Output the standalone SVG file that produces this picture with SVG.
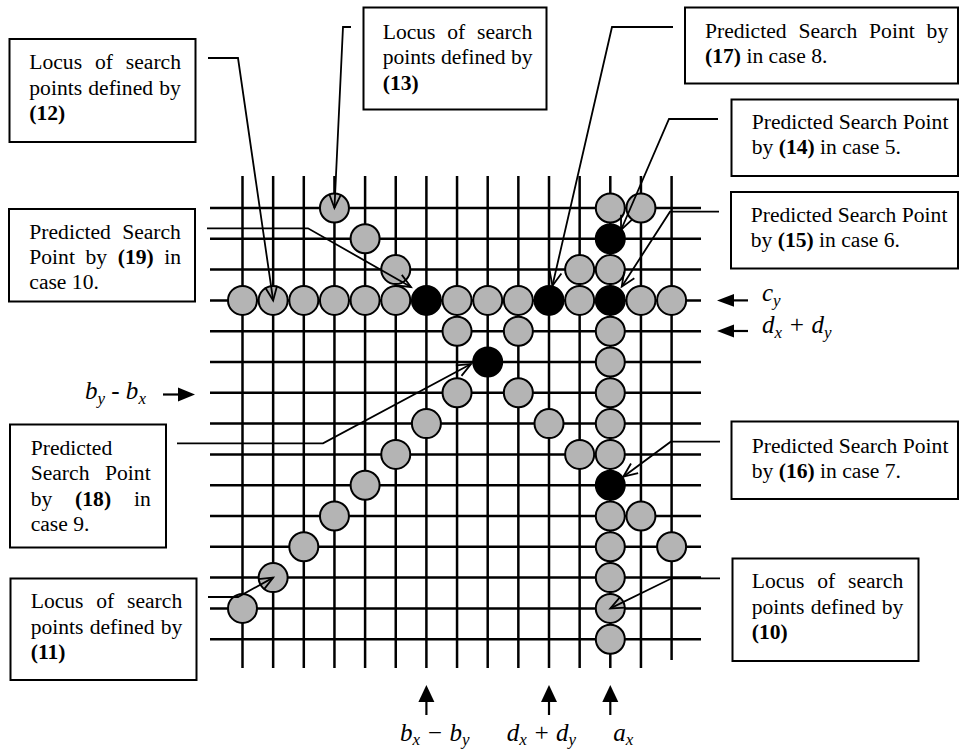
<svg xmlns="http://www.w3.org/2000/svg" width="960" height="753" viewBox="0 0 960 753">
<style>
  .grid line { stroke: #000; stroke-width: 2.5; }
  .g { fill: #b4b4b4; stroke: #000; stroke-width: 2; }
  .b { fill: #000; stroke: #000; stroke-width: 2; }
  .box { fill: #fff; stroke: #000; stroke-width: 2; }
  .t { font-family: "Liberation Serif", "Times New Roman", serif; font-size: 21.6px; fill: #000; }
  .bd { font-weight: bold; }
  .con { fill: none; stroke: #000; stroke-width: 1.8; marker-end: url(#open); }
  .m { font-family: "Liberation Serif", "Times New Roman", serif; font-style: italic; font-size: 25px; fill: #000; }
  .sub { font-size: 17px; }
  .ax line { stroke: #000; stroke-width: 2.2; }
  .ax polygon { fill: #000; }
</style>
<defs>
  <marker id="open" markerUnits="userSpaceOnUse" markerWidth="18" markerHeight="16" viewBox="-16 -8 18 16" refX="0" refY="0" orient="auto" overflow="visible">
    <path d="M-14,-6 L0,0 L-14,6" fill="none" stroke="#000" stroke-width="1.8"/>
  </marker>
</defs>
<rect width="960" height="753" fill="#fff"/>

<g id="grid" class="grid">
  <line x1="242.5" y1="176" x2="242.5" y2="668"/>
  <line x1="273.15" y1="176" x2="273.15" y2="668"/>
  <line x1="303.8" y1="176" x2="303.8" y2="668"/>
  <line x1="334.45" y1="176" x2="334.45" y2="668"/>
  <line x1="365.1" y1="176" x2="365.1" y2="668"/>
  <line x1="395.75" y1="176" x2="395.75" y2="668"/>
  <line x1="426.4" y1="176" x2="426.4" y2="668"/>
  <line x1="457.05" y1="176" x2="457.05" y2="668"/>
  <line x1="487.7" y1="176" x2="487.7" y2="668"/>
  <line x1="518.35" y1="176" x2="518.35" y2="668"/>
  <line x1="549" y1="176" x2="549" y2="668"/>
  <line x1="579.65" y1="176" x2="579.65" y2="668"/>
  <line x1="610.3" y1="176" x2="610.3" y2="668"/>
  <line x1="640.95" y1="176" x2="640.95" y2="668"/>
  <line x1="671.6" y1="176" x2="671.6" y2="660"/>
  <line x1="210" y1="208" x2="701" y2="208"/>
  <line x1="210" y1="238.8" x2="701" y2="238.8"/>
  <line x1="210" y1="269.6" x2="701" y2="269.6"/>
  <line x1="210" y1="300.4" x2="701" y2="300.4"/>
  <line x1="210" y1="331.2" x2="701" y2="331.2"/>
  <line x1="210" y1="362" x2="701" y2="362"/>
  <line x1="210" y1="392.8" x2="701" y2="392.8"/>
  <line x1="210" y1="423.6" x2="701" y2="423.6"/>
  <line x1="210" y1="454.4" x2="701" y2="454.4"/>
  <line x1="210" y1="485.2" x2="701" y2="485.2"/>
  <line x1="210" y1="516" x2="701" y2="516"/>
  <line x1="210" y1="546.8" x2="701" y2="546.8"/>
  <line x1="210" y1="577.6" x2="701" y2="577.6"/>
  <line x1="210" y1="608.4" x2="701" y2="608.4"/>
  <line x1="210" y1="639.2" x2="701" y2="639.2"/>
</g>

<g id="points">
  <circle class="g" cx="334.45" cy="208" r="14.5"/>
  <circle class="g" cx="610.3" cy="208" r="14.5"/>
  <circle class="g" cx="640.95" cy="208" r="14.5"/>
  <circle class="g" cx="365.1" cy="238.8" r="14.5"/>
  <circle class="b" cx="610.3" cy="238.8" r="14.5"/>
  <circle class="g" cx="395.75" cy="269.6" r="14.5"/>
  <circle class="g" cx="579.65" cy="269.6" r="14.5"/>
  <circle class="g" cx="610.3" cy="269.6" r="14.5"/>
  <circle class="g" cx="242.5" cy="300.4" r="14.5"/>
  <circle class="g" cx="273.15" cy="300.4" r="14.5"/>
  <circle class="g" cx="303.8" cy="300.4" r="14.5"/>
  <circle class="g" cx="334.45" cy="300.4" r="14.5"/>
  <circle class="g" cx="365.1" cy="300.4" r="14.5"/>
  <circle class="g" cx="395.75" cy="300.4" r="14.5"/>
  <circle class="b" cx="426.4" cy="300.4" r="14.5"/>
  <circle class="g" cx="457.05" cy="300.4" r="14.5"/>
  <circle class="g" cx="487.7" cy="300.4" r="14.5"/>
  <circle class="g" cx="518.35" cy="300.4" r="14.5"/>
  <circle class="b" cx="549" cy="300.4" r="14.5"/>
  <circle class="g" cx="579.65" cy="300.4" r="14.5"/>
  <circle class="b" cx="610.3" cy="300.4" r="14.5"/>
  <circle class="g" cx="640.95" cy="300.4" r="14.5"/>
  <circle class="g" cx="671.6" cy="300.4" r="14.5"/>
  <circle class="g" cx="457.05" cy="331.2" r="14.5"/>
  <circle class="g" cx="518.35" cy="331.2" r="14.5"/>
  <circle class="g" cx="610.3" cy="331.2" r="14.5"/>
  <circle class="b" cx="487.7" cy="362" r="14.5"/>
  <circle class="g" cx="610.3" cy="362" r="14.5"/>
  <circle class="g" cx="457.05" cy="392.8" r="14.5"/>
  <circle class="g" cx="518.35" cy="392.8" r="14.5"/>
  <circle class="g" cx="610.3" cy="392.8" r="14.5"/>
  <circle class="g" cx="426.4" cy="423.6" r="14.5"/>
  <circle class="g" cx="549" cy="423.6" r="14.5"/>
  <circle class="g" cx="610.3" cy="423.6" r="14.5"/>
  <circle class="g" cx="395.75" cy="454.4" r="14.5"/>
  <circle class="g" cx="579.65" cy="454.4" r="14.5"/>
  <circle class="g" cx="610.3" cy="454.4" r="14.5"/>
  <circle class="g" cx="365.1" cy="485.2" r="14.5"/>
  <circle class="b" cx="610.3" cy="485.2" r="14.5"/>
  <circle class="g" cx="334.45" cy="516" r="14.5"/>
  <circle class="g" cx="610.3" cy="516" r="14.5"/>
  <circle class="g" cx="640.95" cy="516" r="14.5"/>
  <circle class="g" cx="303.8" cy="546.8" r="14.5"/>
  <circle class="g" cx="610.3" cy="546.8" r="14.5"/>
  <circle class="g" cx="671.6" cy="546.8" r="14.5"/>
  <circle class="g" cx="273.15" cy="577.6" r="14.5"/>
  <circle class="g" cx="610.3" cy="577.6" r="14.5"/>
  <circle class="g" cx="242.5" cy="608.4" r="14.5"/>
  <circle class="g" cx="610.3" cy="608.4" r="14.5"/>
  <circle class="g" cx="610.3" cy="639.2" r="14.5"/>
</g>

<g id="node-12">
  <rect class="box" x="9.5" y="39" width="186" height="103"/>
  <text class="t" x="29.3" y="69" style="word-spacing:7.5px">Locus of search</text>
  <text class="t" x="29.3" y="94.5" style="word-spacing:0.8px">points defined by</text>
  <text class="t bd" x="29.3" y="120">(12)</text>
</g>
<g id="node-13">
  <rect class="box" x="363.5" y="7.5" width="183" height="102"/>
  <text class="t" x="382.7" y="38.5" style="word-spacing:6.4px">Locus of search</text>
  <text class="t" x="382.7" y="64">points defined by</text>
  <text class="t bd" x="382.7" y="89.5">(13)</text>
</g>
<g id="node-17">
  <rect class="box" x="685" y="7.5" width="273" height="76"/>
  <text class="t" x="705" y="37.5" style="word-spacing:6.5px">Predicted Search Point by</text>
  <text class="t" x="705" y="63"><tspan class="bd">(17)</tspan> in case 8.</text>
</g>
<g id="node-14">
  <rect class="box" x="731.5" y="99.5" width="226.5" height="76.5"/>
  <text class="t" x="751.7" y="128.5">Predicted Search Point</text>
  <text class="t" x="751.7" y="154">by <tspan class="bd">(14)</tspan> in case 5.</text>
</g>
<g id="node-15">
  <rect class="box" x="731" y="192" width="227" height="76.5"/>
  <text class="t" x="750.7" y="221.5">Predicted Search Point</text>
  <text class="t" x="750.7" y="247">by <tspan class="bd">(15)</tspan> in case 6.</text>
</g>
<g id="node-19">
  <rect class="box" x="9" y="209" width="186" height="92.5"/>
  <text class="t" x="29.3" y="239" style="word-spacing:5.9px">Predicted Search</text>
  <text class="t" x="29.3" y="264" style="word-spacing:5.2px">Point by <tspan class="bd">(19)</tspan> in</text>
  <text class="t" x="29.3" y="289">case 10.</text>
</g>
<g id="node-18">
  <rect class="box" x="10" y="424.5" width="156" height="123"/>
  <text class="t" x="30.7" y="454.5">Predicted</text>
  <text class="t" x="30.7" y="480" style="word-spacing:10.2px">Search Point</text>
  <text class="t" x="30.7" y="505.5" style="word-spacing:17.4px">by <tspan class="bd">(18)</tspan> in</text>
  <text class="t" x="30.7" y="531">case 9.</text>
</g>
<g id="node-11">
  <rect class="box" x="10.5" y="578.5" width="186" height="101.5"/>
  <text class="t" x="30.7" y="608.3" style="word-spacing:7.4px">Locus of search</text>
  <text class="t" x="30.7" y="633.5" style="word-spacing:0.8px">points defined by</text>
  <text class="t bd" x="30.7" y="658.5">(11)</text>
</g>
<g id="node-16">
  <rect class="box" x="731.5" y="421.5" width="226.5" height="77.5"/>
  <text class="t" x="751.7" y="452.5">Predicted Search Point</text>
  <text class="t" x="751.7" y="478">by <tspan class="bd">(16)</tspan> in case 7.</text>
</g>
<g id="node-10">
  <rect class="box" x="732.5" y="558.5" width="186" height="102.5"/>
  <text class="t" x="751.7" y="588.3" style="word-spacing:7.4px">Locus of search</text>
  <text class="t" x="751.7" y="613.5" style="word-spacing:0.8px">points defined by</text>
  <text class="t bd" x="751.7" y="638.5">(10)</text>
</g>

<g id="connectors">
  <polyline class="con" points="208,58 238,58 273.15,300.4"/>
  <polyline class="con" points="351,27 343,27 334.45,208"/>
  <polyline class="con" points="673,27 612,27 552.4,285.8"/>
  <polyline class="con" points="718,119 669,119 621,230"/>
  <polyline class="con" points="719,211.7 670,211.7 621.7,286.7"/>
  <polyline class="con" points="207,228.3 308,228.3 411,287"/>
  <polyline class="con" points="177,443.3 323,443.3 471,364"/>
  <polyline class="con" points="208,597 238,597 273.15,577.6"/>
  <polyline class="con" points="720,441.7 670.7,441.7 623.3,476.7"/>
  <polyline class="con" points="720,578.3 671.7,578.3 610.3,608.4"/>
</g>

<g id="axis-labels" class="ax">
  <line x1="748" y1="300.4" x2="728" y2="300.4"/>
  <polygon points="717,300.4 734,294 734,306.8"/>
  <text class="m" x="762" y="301">c<tspan class="sub" dy="5">y</tspan></text>

  <line x1="748" y1="331" x2="728" y2="331"/>
  <polygon points="717,331 734,324.6 734,337.4"/>
  <text class="m" x="762" y="333">d<tspan class="sub" dy="5">x</tspan><tspan dy="-5"> + d</tspan><tspan class="sub" dy="5">y</tspan></text>

  <line x1="163" y1="394.5" x2="182" y2="394.5"/>
  <polygon points="195,394.5 178,387.5 178,401.5"/>
  <text class="m" x="85" y="399">b<tspan class="sub" dy="5">y</tspan><tspan dy="-5"> - b</tspan><tspan class="sub" dy="5">x</tspan></text>

  <line x1="426.4" y1="715" x2="426.4" y2="698"/>
  <polygon points="426.4,685 418.4,702 434.4,702"/>
  <line x1="549" y1="715" x2="549" y2="698"/>
  <polygon points="549,685 541,702 557,702"/>
  <line x1="610.3" y1="715" x2="610.3" y2="698"/>
  <polygon points="610.3,685 602.3,702 618.3,702"/>

  <text class="m" x="400" y="741">b<tspan class="sub" dy="4">x</tspan><tspan dy="-4"> − b</tspan><tspan class="sub" dy="4">y</tspan></text>
  <text class="m" x="506.7" y="741">d<tspan class="sub" dy="4">x</tspan><tspan dy="-4"> + d</tspan><tspan class="sub" dy="4">y</tspan></text>
  <text class="m" x="613.3" y="741">a<tspan class="sub" dy="4">x</tspan></text>
</g>
</svg>
